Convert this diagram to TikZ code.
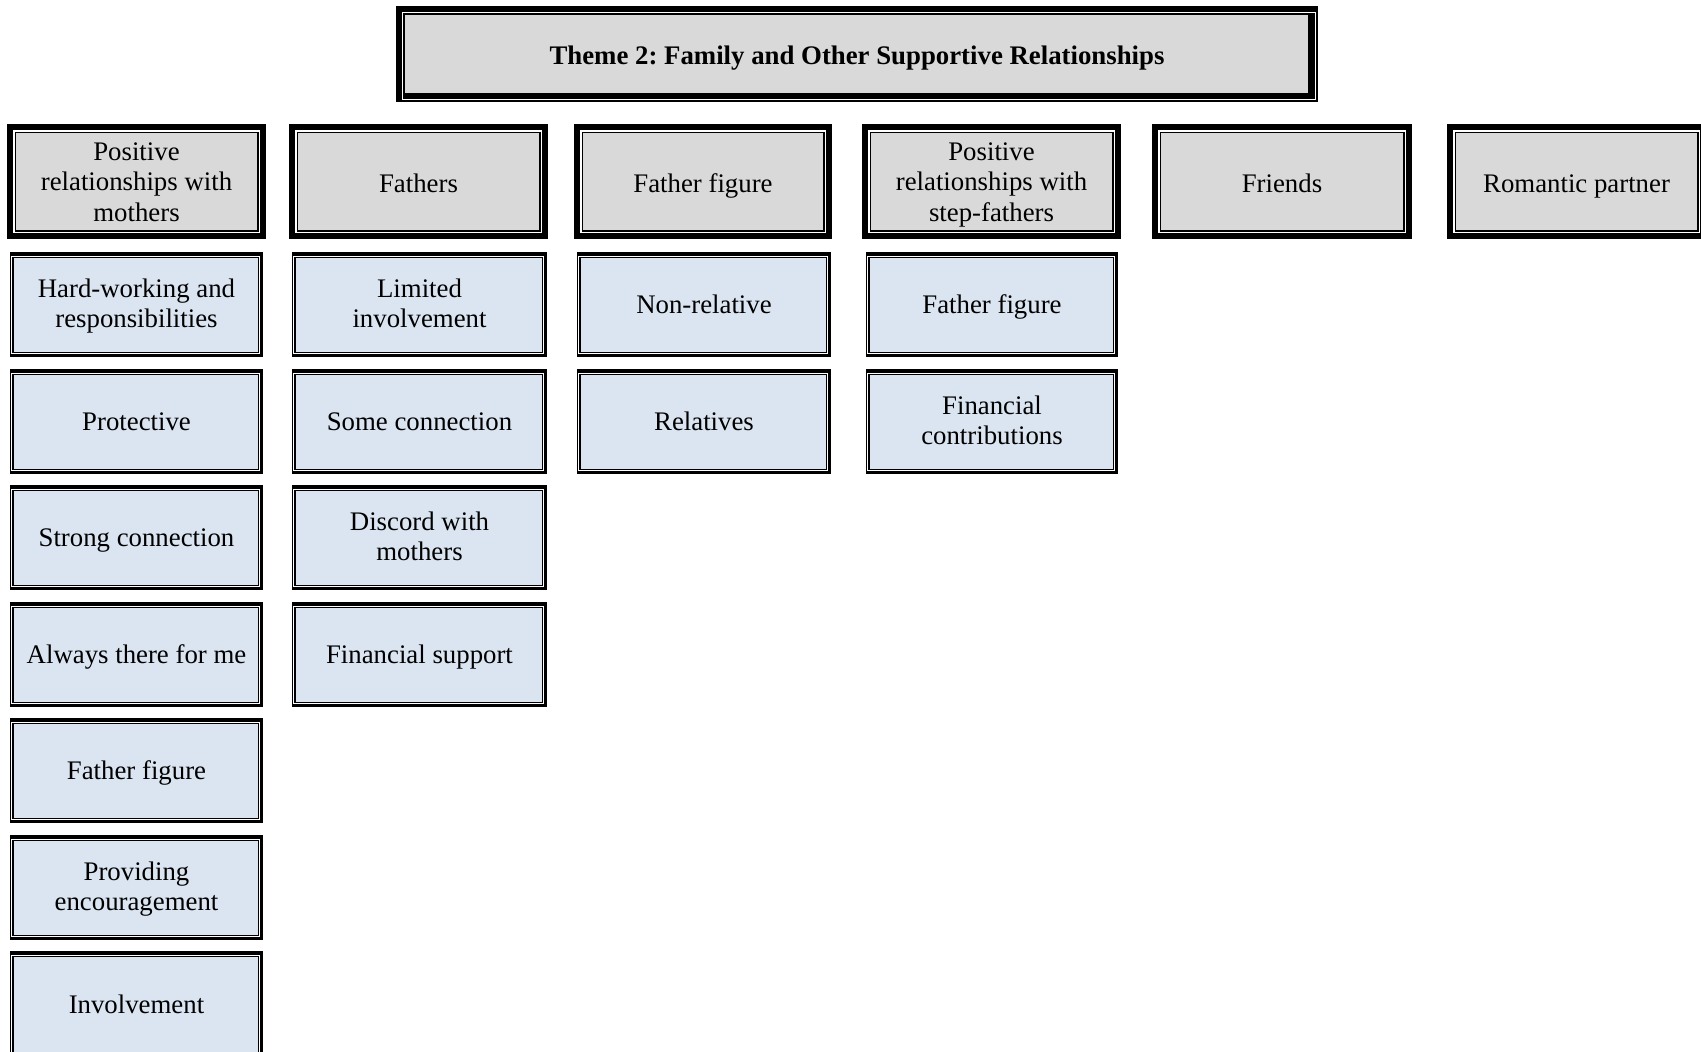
\documentclass[tikz,border=0pt]{standalone}
\usepackage{fontspec}
\setmainfont{Liberation Serif}
\frenchspacing
\definecolor{hdrgray}{HTML}{D9D9D9}
\definecolor{subblue}{HTML}{DBE5F1}
\tikzset{
  boxtext/.style={align=center, inner sep=0pt, yshift=-2.4pt,
    font=\fontsize{13.4}{15.2}\selectfont\frenchspacing, text=black,
    execute at begin node=\strut, execute at end node=\strut},
  subtext/.style={boxtext, yshift=0.8pt},
  titletext/.style={boxtext, font=\fontsize{13.4}{15.2}\selectfont\bfseries\frenchspacing}
}
% header box: name, x1, y1, x2, y2, text
\newcommand{\mkhdr}[6]{%
  \fill[black] (#2,#3) rectangle (#4,#5);
  \fill[white] ({#2+6},{#3+6}) rectangle ({#4-6},{#5-6});
  \fill[black] ({#2+7.5},{#3+7.5}) rectangle ({#4-7.5},{#5-7.5});
  \fill[hdrgray] ({#2+9},{#3+9}) rectangle ({#4-9},{#5-9});
  \node[boxtext] (#1) at ({(#2+#4)/2},{(#3+#5)/2}) {#6};
}
% sub box: name, x1, y1, x2, y2, text
\newcommand{\mksub}[6]{%
  \fill[black] (#2,#3) rectangle (#4,#5);
  \fill[white] ({#2+1},{#3+3.5}) rectangle ({#4-3.5},{#5-3.5});
  \fill[black] ({#2+2},{#3+4.5}) rectangle ({#4-4.5},{#5-4.5});
  \fill[subblue] ({#2+4},{#3+5.5}) rectangle ({#4-5.5},{#5-5.5});
  \node[subtext] (#1) at ({(#2+#4)/2},{(#3+#5)/2}) {#6};
}
\begin{document}
\begin{tikzpicture}[x=0.5pt, y=-0.5pt]
\useasboundingbox (0,0) rectangle (1701,1051);
\clip (0,0) rectangle (1701,1051);
% title
\fill[black] (396,6) rectangle (1318,102);
\fill[white] (401.5,11.5) rectangle (1316,100);
\fill[black] (403,13) rectangle (1314.5,98.5);
\fill[hdrgray] (405,14.5) rectangle (1308,93);
\node[titletext] (title) at (857,54) {Theme 2: Family and Other Supportive Relationships};
% headers
\mkhdr{h1}{7}{124}{266}{239}{Positive\\relationships with\\mothers}
\mkhdr{h2}{289}{124}{548}{239}{Fathers}
\mkhdr{h3}{574}{124}{832}{239}{Father figure}
\mkhdr{h4}{862}{124}{1121}{239}{Positive\\relationships with\\step-fathers}
\mkhdr{h5}{1152}{124}{1412}{239}{Friends}
\mkhdr{h6}{1447}{124}{1706}{239}{Romantic partner}
% column 1
\mksub{a1}{10}{252}{263}{357}{Hard-working and\\responsibilities}
\mksub{a2}{10}{369}{263}{474}{Protective}
\mksub{a3}{10}{485}{263}{590}{Strong connection}
\mksub{a4}{10}{602}{263}{707}{Always there for me}
\mksub{a5}{10}{718}{263}{823}{Father figure}
\mksub{a6}{10}{835}{263}{940}{Providing\\encouragement}
\mksub{a7}{10}{951}{263}{1058}{Involvement}
% column 2
\mksub{b1}{292}{252}{547}{357}{Limited\\involvement}
\mksub{b2}{292}{369}{547}{474}{Some connection}
\mksub{b3}{292}{485}{547}{590}{Discord with\\mothers}
\mksub{b4}{292}{602}{547}{707}{Financial support}
% column 3
\mksub{c1}{577}{252}{831}{357}{Non-relative}
\mksub{c2}{577}{369}{831}{474}{Relatives}
% column 4
\mksub{d1}{866}{252}{1118}{357}{Father figure}
\mksub{d2}{866}{369}{1118}{474}{Financial\\contributions}
\end{tikzpicture}
\end{document}
